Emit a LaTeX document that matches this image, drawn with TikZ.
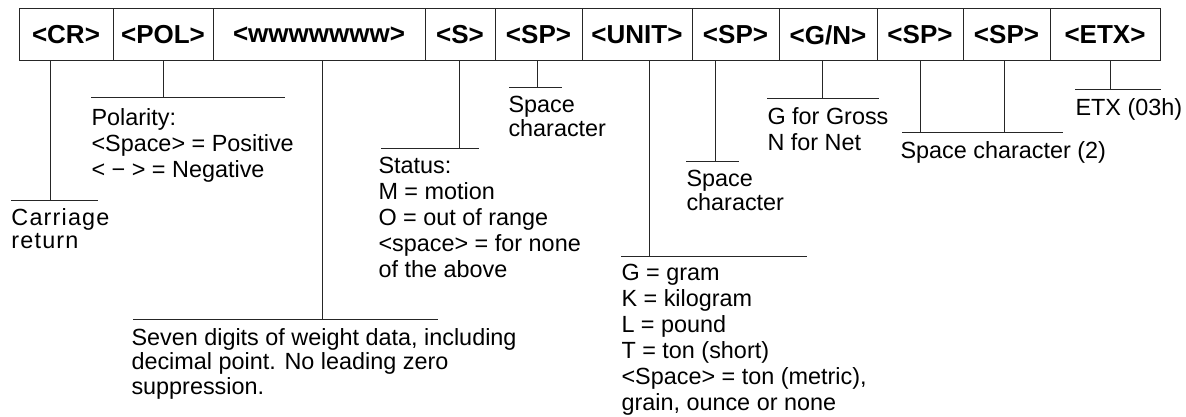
\documentclass[tikz,border=0pt]{standalone}
\usepackage{fontspec}
\setmainfont{Liberation Sans}
\newfontfamily\spacedfont[LetterSpace=5]{Liberation Sans}
\usetikzlibrary{positioning}

\def\cellheight{52pt}

\begin{document}
\begin{tikzpicture}[x=1pt,y=-1pt,line width=1pt,draw=black!85,node distance=0pt]
    \tikzstyle{cell}=[draw,rectangle,minimum height=\cellheight,inner sep=0pt,outer sep=0pt,font=\fontsize{26}{30}\selectfont\bfseries]
    \tikzstyle{note}=[anchor=north west,align=left,inner sep=0pt,font=\fontsize{23.4}{26}\selectfont]
    \tikzstyle{tight note}=[note,font=\fontsize{23.4}{23.5}\selectfont]

    \useasboundingbox (0,0) rectangle (1186,417);

    % Draw the frame cells
    \node[cell,minimum width=94pt] (CR) at (66,35) {<CR>};
    \node[cell,minimum width=100pt,right=of CR] (POL) {<POL>};
    \node[cell,minimum width=212pt,right=of POL] (W) {<wwwwwww>};
    \node[cell,minimum width=70pt,right=of W] (S) {<S>};
    \node[cell,minimum width=87pt,right=of S] (SP1) {<SP>};
    \node[cell,minimum width=110pt,right=of SP1] (UNIT) {<UNIT>};
    \node[cell,minimum width=87pt,right=of UNIT] (SP2) {<SP>};
    \node[cell,minimum width=98pt,right=of SP2] (GN) {<G/N>};
    \node[cell,minimum width=86pt,right=of GN] (SP3) {<SP>};
    \node[cell,minimum width=87pt,right=of SP3] (SP4) {<SP>};
    \node[cell,minimum width=110pt,right=of SP4] (ETX) {<ETX>};

    % Leader from each cell down to its rule
    \foreach \cell / \lx / \ly / \xa / \xb in {CR/50/200/11/98, POL/163/98/91/285,
            W/322/319/133/438, S/459/149/381/479, SP1/537/88/509/562,
            UNIT/649/256/621/807, SP2/715/162/686/739, GN/822/99/767/879,
            SP3/920/133/902/1063, ETX/1110/90/1075/1161}
    {
        \coordinate (\cell-end) at (\lx,\ly);
        \draw (\cell.south -| \cell-end) -- (\cell-end);
        \draw (\xa,\ly) -- (\xb,\ly);
    }
    % second space cell shares the rule of the first one
    \coordinate (SP4-end) at (1004,133);
    \draw (SP4.south -| SP4-end) -- (SP4-end);

    % Annotate the fields
    \node[tight note,font=\fontsize{23.4}{23.5}\spacedfont] (cr-note) at (11,208) {Carriage\\return};
    \node[note] (pol-note) at (91,108) {Polarity:\\<Space> = Positive\\< − > = Negative};
    \node[tight note,font=\fontsize{23.4}{24.5}\selectfont] (w-note) at (131,328) {Seven digits of weight data, including\\decimal point. No leading zero\\suppression.};
    \node[note] (s-note) at (378,157) {Status:\\M = motion\\O = out of range\\<space> = for none\\of the above};
    \node[tight note] (sp1-note) at (508,96) {Space\\character};
    \node[note] (unit-note) at (621,264) {G = gram\\K = kilogram\\L = pound\\T = ton (short)\\<Space> = ton (metric),\\grain, ounce or none};
    \node[tight note] (sp2-note) at (686,170) {Space\\character};
    \node[note] (gn-note) at (767,107) {G for Gross\\N for Net};
    \node[note] (sp34-note) at (900,141) {Space character (2)};
    \node[note] (etx-note) at (1075,98) {ETX (03h)};
\end{tikzpicture}
\end{document}
